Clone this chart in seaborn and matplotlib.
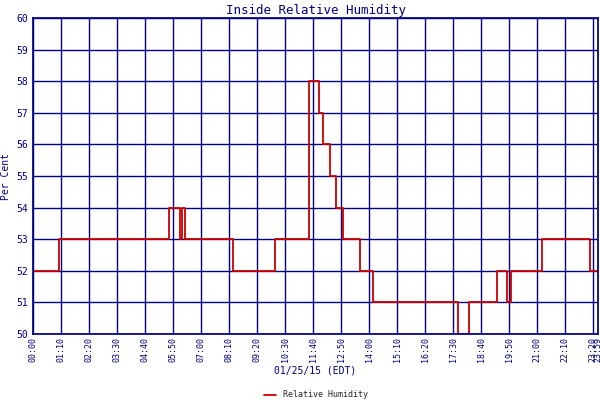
import matplotlib
matplotlib.use("Agg")
import matplotlib.pyplot as plt
import seaborn as sns
import pandas as pd

# step change times (minutes after midnight) and values
times = [0, 65, 340, 367, 372, 380, 500, 605, 690, 715, 725, 743, 757, 775, 817, 850, 1062, 1090, 1160, 1185, 1195, 1272, 1392, 1412]
values = [52, 53, 54, 53, 54, 53, 52, 53, 58, 57, 56, 55, 54, 53, 52, 51, 50, 51, 52, 51, 52, 53, 52, 52]
tick_labels = ["00:00","01:10","02:20","03:30","04:40","05:50","07:00","08:10","09:20","10:30","11:40","12:50",
               "14:00","15:10","16:20","17:30","18:40","19:50","21:00","22:10","23:20","23:59"]

navy = "#000080"
sns.set_theme(style="white")
plt.rcParams['font.family'] = ['DejaVu Sans Mono']
df = pd.DataFrame({"t": times, "v": values})
fig, ax = plt.subplots(figsize=(6, 4), dpi=100)
fig.subplots_adjust(left=0.055, right=0.997, top=0.955, bottom=0.165)
sns.lineplot(data=df, x="t", y="v", drawstyle="steps-post", color="#cc0000", lw=1.3, ax=ax, label="Relative Humidity")
ticks = [70 * i for i in range(21)] + [1412]
ax.set_xticks(ticks)
ax.set_xticklabels(tick_labels, rotation=90, fontsize=6, color=navy)
ax.set_xlim(0, 1412)
ax.set_ylim(50, 60)
ax.set_yticks(range(50, 61))
ax.tick_params(axis='y', labelsize=7, colors=navy, length=0)
ax.tick_params(axis='x', length=0, pad=2)
ax.grid(True, color=navy, lw=1)
for s in ax.spines.values():
    s.set_color(navy)
ax.set_title("Inside Relative Humidity", color=navy, fontsize=9, pad=3)
ax.set_xlabel("01/25/15 (EDT)", color=navy, fontsize=7, labelpad=3)
ax.set_ylabel("Per Cent", color=navy, fontsize=7)
ax.legend(loc="upper center", bbox_to_anchor=(0.5, -0.155), frameon=False, fontsize=6, handlelength=1.5)
fig.savefig("out.png")
